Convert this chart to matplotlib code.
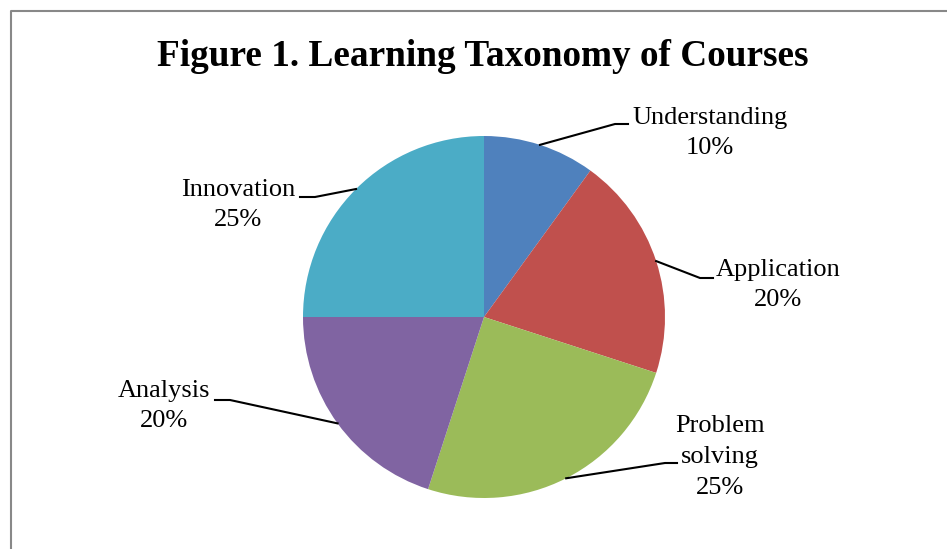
import numpy as np
import matplotlib.pyplot as plt

categories = ["Understanding", "Application", "Problem\nsolving", "Analysis", "Innovation"]
shares = [10, 20, 25, 20, 25]
colors = ["#4F81BD", "#C0504D", "#9BBB59", "#8064A2", "#4BACC6"]
title = "Figure 1. Learning Taxonomy of Courses"

# label layout in pixel space (x, y from top): text centre, elbow, end of leader
label_pos = [(710, 133), (778, 285), (720, 457), (164, 406), (238, 205)]
leader_bend = [(615, 124), (700, 278), (665, 463), (230, 400), (315, 197)]
leader_end = [(628, 124), (713, 278), (677, 463), (215, 400), (300, 197)]

W, H = 947, 549
plt.rcParams['font.family'] = ['Liberation Serif', 'DejaVu Serif']

fig = plt.figure(figsize=(W / 100, H / 100), dpi=100)
ax = fig.add_axes([0, 0, 1, 1])

cx, cy, r = 484, H - 317, 181
wedges, _ = ax.pie(shares, colors=colors, startangle=90, counterclock=False,
                   center=(cx, cy), radius=r, frame=True)
ax.set_xlim(0, W)
ax.set_ylim(0, H)
ax.set_aspect('auto')
ax.axis('off')

# leader lines from wedge edge midpoints
for w, lab, bend, end, pos in zip(wedges, categories, leader_bend, leader_end, label_pos):
    ang = np.deg2rad((w.theta1 + w.theta2) / 2)
    x0 = cx + r * np.cos(ang)
    y0 = cy + r * np.sin(ang)
    ax.plot([x0, bend[0], end[0]], [y0, H - bend[1], H - end[1]], color='black', lw=1.5)
    pct = shares[categories.index(lab)]
    ax.text(pos[0], H - pos[1], f"{lab}\n{pct}%", ha='center', va='center',
            fontsize=19, linespacing=1.5)

ax.text(483, H - 56, title, ha='center', va='center', fontsize=26.8, fontweight='bold')

# chart border
ax.plot([10.5, 10.5, W + 5], [-5, H - 10.5, H - 10.5], color='#888888', lw=1.5, clip_on=False)

fig.savefig("out.png", dpi=100)
